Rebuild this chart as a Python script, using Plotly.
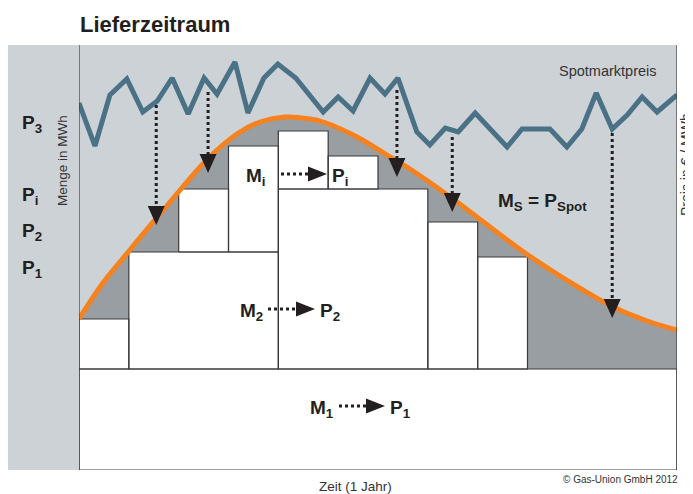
import plotly.graph_objects as go

# ---------------- data (months 0..12, quantity/price in arbitrary units) ----------------
block_start = [0, 0, 1, 2, 3, 4, 4, 5, 7, 8]
block_end = [12, 1, 4, 3, 4, 7, 5, 6, 8, 9]
block_bottom = [0, 10.1, 10.1, 21.8, 21.8, 10.1, 28.1, 28.1, 10.1, 10.1]
block_top = [10.1, 15.1, 21.8, 28.1, 32.4, 28.1, 33.9, 31.4, 24.8, 21.3]

demand_x = [0.00, 0.48, 1.02, 1.57, 2.03, 2.43, 2.77, 3.23, 3.63, 4.13, 4.64, 4.90,
            5.58, 6.24, 6.58, 7.45, 8.01, 9.01, 10.11, 10.72, 11.46, 12.00]
demand_y = [15.1, 18.7, 22.0, 25.3, 28.0, 30.3, 32.0, 33.8, 34.8, 35.3, 35.1, 34.8,
            33.3, 31.3, 30.3, 27.3, 25.2, 21.5, 18.0, 16.3, 14.8, 14.0]

spot_x = [0.00, 0.32, 0.62, 0.96, 1.28, 1.57, 1.87, 2.19, 2.51, 2.77, 3.13, 3.39,
          3.71, 3.99, 4.35, 4.90, 5.20, 5.50, 5.84, 6.14, 6.40, 6.78, 7.04, 7.35,
          7.61, 7.95, 8.59, 8.89, 9.45, 9.79, 10.09, 10.38, 10.70, 11.00, 11.30,
          11.60, 12.00]
spot_y = [36.7, 32.4, 37.5, 39.1, 35.8, 36.9, 39.2, 35.6, 39.2, 37.6, 40.8, 35.7,
          39.2, 40.6, 39.2, 35.8, 37.3, 35.9, 39.2, 37.6, 39.2, 33.8, 32.5, 34.2,
          33.8, 35.7, 32.3, 34.1, 34.1, 32.3, 34.1, 37.7, 34.1, 35.5, 37.3, 35.8,
          37.5]

arrow_x = [1.55, 2.59, 6.38, 7.49, 10.70]
arrow_from = [36.5, 37.8, 38.0, 33.3, 33.7]
arrow_to = [24.5, 29.7, 29.3, 25.8, 15.2]

# ---------------- styling / layout (pixel positions measured on the reference) ----------------
OFF = 8                      # page body margin of the browser
W, H = 693 - OFF, 494 - OFF
REF_L, REF_R, REF_T, REF_B = 79, 677, 45, 470
ML, MR, MT, MB = REF_L - OFF, 693 - REF_R, REF_T - OFF, 494 - REF_B
PW, PH = REF_R - REF_L, REF_B - REF_T
XR, YR = [0, 12], [0, 42.5]
PXU = PW / (XR[1] - XR[0])   # px per month
PYU = PH / (YR[1] - YR[0])   # px per unit

LIGHT = "#cdd2d6"
DARK = "#999ea2"
ORANGE = "#f5821f"
BLUE = "#4a7185"
INK = "#231f20"
FONT = "Liberation Sans, Arial, sans-serif"


def dx(px):
    return px / PXU


def dy(px):
    return px / PYU


def xd(px):       # reference px -> data x
    return (px - REF_L) / PXU


def yd(py):       # reference px -> data y
    return (REF_B - py) / PYU


def xp(px):       # reference px -> paper x
    return (px - REF_L) / PW


def yp(py):       # reference px -> paper y
    return (REF_B - py) / PH


fig = go.Figure()

# dark grey area below demand curve
fig.add_trace(go.Scatter(x=demand_x, y=demand_y, mode="lines", fill="tozeroy",
                         fillcolor=DARK, line=dict(width=0, shape="spline", smoothing=1),
                         hoverinfo="skip", showlegend=False))

# procurement blocks (rectangles)
bx, by = [], []
for s, e, b, t in zip(block_start, block_end, block_bottom, block_top):
    bx += [s, e, e, s, s, None]
    by += [b, b, t, t, b, None]
fig.add_trace(go.Scatter(x=bx, y=by, mode="lines", fill="toself", fillcolor="white",
                         line=dict(color="#3a3a3a", width=1.2),
                         hoverinfo="skip", showlegend=False))

# demand curve
fig.add_trace(go.Scatter(x=demand_x, y=demand_y, mode="lines",
                         line=dict(color=ORANGE, width=5, shape="spline", smoothing=1),
                         hoverinfo="skip", showlegend=False))

# spot price
fig.add_trace(go.Scatter(x=spot_x, y=spot_y, mode="lines",
                         line=dict(color=BLUE, width=5),
                         hoverinfo="skip", showlegend=False))

# vertical dotted arrows
hh = dy(19)
hw = dx(8.5)
lx, ly, tx, ty = [], [], [], []
for x, a, b in zip(arrow_x, arrow_from, arrow_to):
    lx += [x, x, None]
    ly += [a, b + hh, None]
    tx += [x - hw, x + hw, x, x - hw, None]
    ty += [b + hh, b + hh, b, b + hh, None]
fig.add_trace(go.Scatter(x=lx, y=ly, mode="lines", line=dict(color=INK, width=3, dash="dot"),
                         hoverinfo="skip", showlegend=False))
fig.add_trace(go.Scatter(x=tx, y=ty, mode="lines", fill="toself", fillcolor=INK,
                         line=dict(width=0, color=INK), hoverinfo="skip", showlegend=False))

# horizontal label arrows (pixel layout of the labels)
labels = [
    # (M text, P text, M right px, dots start px, tip px, P left px, y px)
    ("M<sub>i</sub>", "P<sub>i</sub>", 268, 281, 327, 330, 174),
    ("M<sub>2</sub>", "P<sub>2</sub>", 265, 268, 315, 318, 309),
    ("M<sub>1</sub>", "P<sub>1</sub>", 336, 339, 385, 388, 406),
]
hx, hy, hx2, hy2 = [], [], [], []
annotations = []
for mt, pt, mr, ds, tip, pl, py in labels:
    y = yd(py)
    hx += [xd(ds), xd(tip - 19), None]
    hy += [y, y, None]
    hx2 += [xd(tip - 19), xd(tip - 19), xd(tip), xd(tip - 19), None]
    hy2 += [y - dy(7.5), y + dy(7.5), y, y - dy(7.5), None]
    annotations.append(dict(x=xd(mr), y=y, text="<b>" + mt + "</b>", xanchor="right",
                            yanchor="middle", yshift=-3, showarrow=False,
                            font=dict(family=FONT, size=19, color=INK)))
    annotations.append(dict(x=xd(pl), y=y, text="<b>" + pt + "</b>", xanchor="left",
                            yanchor="middle", yshift=-3, showarrow=False,
                            font=dict(family=FONT, size=19, color=INK)))
fig.add_trace(go.Scatter(x=hx, y=hy, mode="lines", line=dict(color=INK, width=3, dash="dot"),
                         hoverinfo="skip", showlegend=False))
fig.add_trace(go.Scatter(x=hx2, y=hy2, mode="lines", fill="toself", fillcolor=INK,
                         line=dict(width=0, color=INK), hoverinfo="skip", showlegend=False))

annotations.append(dict(x=xd(496), y=yd(199), text="<b>M<sub>S</sub> = P<sub>Spot</sub></b>",
                        xanchor="left", yanchor="middle", yshift=-3, showarrow=False,
                        font=dict(family=FONT, size=19, color=INK)))

# left P labels
for txt, py in [("P<sub>3</sub>", 121), ("P<sub>i</sub>", 193), ("P<sub>2</sub>", 229),
                ("P<sub>1</sub>", 266)]:
    annotations.append(dict(xref="paper", yref="paper", x=xp(20), y=yp(py),
                            text="<b>" + txt + "</b>", xanchor="left", yanchor="middle",
                            yshift=-3, showarrow=False,
                            font=dict(family=FONT, size=19, color=INK)))

annotations += [
    dict(xref="paper", yref="paper", x=xp(78), y=yp(25),
         text="<b>Lieferzeitraum</b>", xanchor="left", yanchor="middle", showarrow=False,
         font=dict(family=FONT, size=22, color=INK)),
    dict(xref="paper", yref="paper", x=xp(608), y=yp(71),
         text="Spotmarktpreis", xanchor="center", yanchor="middle", showarrow=False,
         font=dict(family=FONT, size=14.5, color="#333333")),
    dict(xref="paper", yref="paper", x=xp(62), y=yp(161),
         text="Menge in MWh", textangle=-90, xanchor="center", yanchor="middle",
         showarrow=False, font=dict(family=FONT, size=13.5, color="#333333")),
    dict(xref="paper", yref="paper", x=xp(686), y=yp(165),
         text="Preis in € / MWh", textangle=-90, xanchor="center", yanchor="middle",
         showarrow=False, font=dict(family=FONT, size=14, color="#333333")),
    dict(xref="paper", yref="paper", x=xp(355), y=yp(486),
         text="Zeit (1 Jahr)", xanchor="center", yanchor="middle", showarrow=False,
         font=dict(family=FONT, size=13.5, color="#333333")),
    dict(xref="paper", yref="paper", x=xp(680), y=yp(480),
         text="© Gas-Union GmbH 2012", xanchor="right", yanchor="middle", showarrow=False,
         font=dict(family=FONT, size=10, color="#333333")),
]

shapes = [
    dict(type="rect", xref="paper", yref="paper", x0=xp(8), x1=0, y0=0, y1=1,
         fillcolor=LIGHT, line=dict(width=0), layer="below"),
    dict(type="line", xref="x", yref="paper", x0=XR[0], x1=XR[0], y0=0, y1=1,
         line=dict(color="#3a3a3a", width=1.2)),
    dict(type="line", xref="x", yref="paper", x0=XR[1], x1=XR[1], y0=0, y1=1,
         line=dict(color="#3a3a3a", width=1.2)),
]

fig.update_layout(
    width=W, height=H,
    margin=dict(l=ML, r=MR, t=MT, b=MB),
    paper_bgcolor="white", plot_bgcolor=LIGHT,
    showlegend=False,
    xaxis=dict(range=XR, visible=False, fixedrange=True),
    yaxis=dict(range=YR, visible=False, fixedrange=True),
    annotations=annotations, shapes=shapes,
)

fig.write_html("out.html")
